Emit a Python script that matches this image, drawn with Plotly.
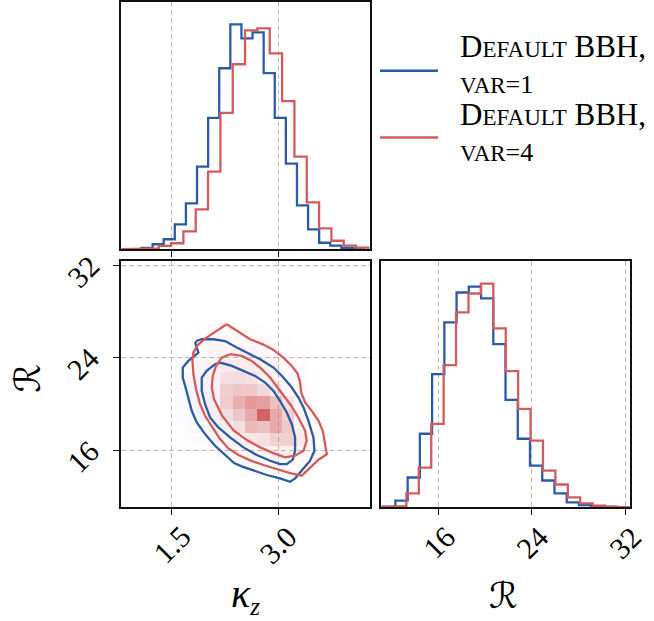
import numpy as np
import plotly.graph_objects as go

# ---- colours ----
BLUE = "#2b5aa6"
RED = "#d35b5d"
BLUE_RGB = "43,90,166"
RED_RGB = "211,91,93"

# ---- 1D histograms: kappa_z (20 bins per series, own range) ----
blue_kz_range = (1.075, 4.197)
blue_kz_counts = [1.3, 5.0, 10, 25, 46, 83, 132, 182, 226, 212,
                  218, 177, 132, 86, 44, 20, 6.5, 3.5, 1.3, 0.7]
red_kz_range = (0.797, 4.265)
red_kz_counts = [0, 0.3, 0.7, 3.3, 6, 18, 40, 78, 137, 186,
                 220, 222, 197, 149, 93, 47, 21, 8.5, 3.5, 1.5]

# ---- 1D histograms: R ----
blue_R_range = (11.226, 32.232)
blue_R_counts = [0.7, 6.7, 30, 74, 134, 186, 216, 222, 210, 164,
                 108, 69, 42, 27, 14, 5, 2.3, 1, 0.5, 0.3]
red_R_range = (11.088, 32.404)
red_R_counts = [0.5, 1, 14, 40, 84, 143, 196, 215, 225, 180,
                137, 99, 67, 37, 23, 10, 4, 1.7, 0.7, 0.3]

N_BINS = 20

# ---- 2D density (red sample), cells kz bins 4..15, R bins 3..14 (bottom -> top) ----
red_2d_kz_bins = (4, 16)
red_2d_R_bins = (3, 15)
red_density = [
    [0, 0, 0, 0, 0, 0.02, 0.03, 0.04, 0.04, 0.04, 0.03, 0.02],
    [0, 0, 0, 0, 0.02, 0.04, 0.06, 0.08, 0.10, 0.10, 0.06, 0.03],
    [0, 0, 0, 0.02, 0.04, 0.08, 0.15, 0.20, 0.30, 0.30, 0.15, 0.05],
    [0, 0, 0.01, 0.03, 0.08, 0.20, 0.45, 0.40, 0.55, 0.35, 0.10, 0.04],
    [0, 0, 0.02, 0.05, 0.20, 0.35, 0.55, 1.00, 0.55, 0.30, 0.08, 0.03],
    [0, 0.01, 0.03, 0.07, 0.30, 0.50, 0.65, 0.62, 0.40, 0.18, 0.05, 0.02],
    [0, 0.01, 0.04, 0.08, 0.30, 0.35, 0.35, 0.25, 0.15, 0.06, 0.03, 0.01],
    [0, 0.02, 0.05, 0.08, 0.18, 0.22, 0.20, 0.12, 0.08, 0.04, 0.02, 0.01],
    [0, 0.02, 0.05, 0.08, 0.12, 0.13, 0.12, 0.09, 0.06, 0.03, 0.02, 0],
    [0, 0.02, 0.04, 0.07, 0.08, 0.08, 0.07, 0.05, 0.03, 0.02, 0.01, 0],
    [0, 0.02, 0.03, 0.05, 0.05, 0.05, 0.04, 0.03, 0.02, 0.01, 0, 0],
    [0, 0, 0.02, 0.03, 0.03, 0.02, 0.02, 0.01, 0, 0, 0, 0],
]
# faint density of the blue sample, kz bins 3..8, R bins 4..11 (bottom -> top)
blue_2d_kz_bins = (3, 9)
blue_2d_R_bins = (4, 12)
blue_density = [
    [0.00, 0.005, 0.015, 0.02, 0.02, 0.015],
    [0.005, 0.015, 0.025, 0.035, 0.03, 0.025],
    [0.01, 0.03, 0.04, 0.045, 0.035, 0.025],
    [0.02, 0.04, 0.05, 0.04, 0.03, 0.025],
    [0.025, 0.05, 0.045, 0.035, 0.025, 0.02],
    [0.03, 0.05, 0.04, 0.025, 0.02, 0.015],
    [0.025, 0.035, 0.03, 0.02, 0.015, 0.01],
    [0.015, 0.02, 0.02, 0.015, 0.01, 0.01],
]

# ---- credible-region contours (kappa_z, R) ----
blue_outer_kz = [1.842, 1.922, 2.086, 2.250, 2.414, 2.602, 2.742, 2.930, 3.070, 3.188,
                 3.281, 3.352, 3.422, 3.492, 3.506, 3.445, 3.328, 3.234, 3.164, 3.023,
                 2.836, 2.648, 2.484, 2.377, 2.250, 2.109, 1.969, 1.852, 1.781, 1.748,
                 1.702, 1.655, 1.655, 1.734, 1.828, 1.875, 1.852, 1.833]
blue_outer_R = [25.46, 25.61, 25.61, 25.46, 24.89, 24.32, 23.89, 23.17, 22.31, 21.45,
                20.59, 19.73, 18.58, 17.15, 16.00, 15.14, 14.28, 13.62, 13.33, 13.62,
                13.91, 14.28, 14.65, 14.94, 15.63, 16.43, 17.43, 18.44, 19.44, 20.30,
                21.30, 22.31, 23.17, 23.74, 24.17, 24.46, 24.89, 25.26]
blue_inner_kz = [2.180, 2.344, 2.508, 2.672, 2.813, 2.930, 3.023, 3.117, 3.188, 3.234,
                 3.234, 3.202, 3.117, 3.023, 2.883, 2.695, 2.508, 2.320, 2.156, 2.039,
                 1.969, 1.922, 1.922, 1.992, 2.109]
blue_inner_R = [23.60, 23.31, 22.88, 22.45, 21.88, 21.16, 20.30, 19.30, 18.29, 17.15,
                16.00, 15.23, 14.85, 14.85, 15.14, 15.63, 16.29, 17.15, 18.01, 18.87,
                20.01, 21.16, 22.31, 22.88, 23.46]
red_outer_kz = [2.273, 2.438, 2.602, 2.789, 2.930, 3.070, 3.188, 3.267, 3.305, 3.319,
                3.375, 3.469, 3.563, 3.623, 3.656, 3.680, 3.563, 3.445, 3.328, 3.164,
                2.977, 2.789, 2.602, 2.438, 2.297, 2.180, 2.063, 1.969, 1.898, 1.842,
                1.805, 1.791, 1.805, 1.861, 1.969, 2.109]
red_outer_R = [26.90, 26.24, 25.61, 25.15, 24.69, 24.03, 23.31, 22.68, 21.88, 21.02,
               20.16, 19.44, 18.58, 17.72, 16.72, 15.71, 15.23, 14.57, 13.85, 14.08,
               14.42, 14.77, 15.17, 15.63, 16.20, 17.00, 18.09, 19.01, 20.01, 21.30,
               22.59, 23.74, 24.46, 25.09, 25.66, 26.24]
red_inner_kz = [2.320, 2.484, 2.625, 2.766, 2.883, 3.023, 3.164, 3.281, 3.375, 3.398,
                3.352, 3.234, 3.094, 2.930, 2.742, 2.555, 2.367, 2.203, 2.095, 2.063,
                2.077, 2.123, 2.203]
red_inner_R = [24.32, 24.17, 23.74, 23.03, 22.31, 21.16, 20.01, 18.87, 17.72, 16.86,
               16.00, 15.57, 15.43, 15.80, 16.29, 16.92, 17.78, 19.07, 20.44, 21.45,
               22.45, 23.31, 24.03]

# ---- axes ----
kz_axis_range = [0.787, 4.280]
R_axis_range = [11.12, 32.34]
R_xaxis_range = [11.04, 32.37]
kz_ticks = [1.5, 3.0]
R_ticks = [16, 24, 32]

SC = "<span style='font-size:23px'>{}</span>"
legend_entries = [
    (["D" + SC.format("EFAULT") + " BBH,", SC.format("VAR") + "=1"], BLUE),
    (["D" + SC.format("EFAULT") + " BBH,", SC.format("VAR") + "=4"], RED),
]
legend_line_sizes = [31, 26]

SERIF = "Liberation Serif, Times New Roman, serif"
LW = 2.3


def edges(rng):
    return np.linspace(rng[0], rng[1], N_BINS + 1)


def step_path(rng, counts):
    e = edges(rng)
    xs = np.repeat(e, 2)
    ys = np.concatenate([[0], np.repeat(counts, 2), [0]])
    return xs, ys


fig = go.Figure()

# top-left: kappa_z marginals
for rng, cnt, col in [(blue_kz_range, blue_kz_counts, BLUE), (red_kz_range, red_kz_counts, RED)]:
    xs, ys = step_path(rng, cnt)
    fig.add_trace(go.Scatter(x=xs, y=ys, mode="lines", line=dict(color=col, width=LW),
                             xaxis="x", yaxis="y", hoverinfo="skip", showlegend=False))

# bottom-right: R marginals
for rng, cnt, col in [(blue_R_range, blue_R_counts, BLUE), (red_R_range, red_R_counts, RED)]:
    xs, ys = step_path(rng, cnt)
    fig.add_trace(go.Scatter(x=xs, y=ys, mode="lines", line=dict(color=col, width=LW),
                             xaxis="x3", yaxis="y3", hoverinfo="skip", showlegend=False))

# bottom-left: 2D density
bkz = edges(blue_kz_range)[blue_2d_kz_bins[0]:blue_2d_kz_bins[1] + 1]
bR = edges(blue_R_range)[blue_2d_R_bins[0]:blue_2d_R_bins[1] + 1]
fig.add_trace(go.Heatmap(x=bkz, y=bR, z=blue_density, zmin=0, zmax=1, showscale=False,
                         colorscale=[[0, f"rgba({BLUE_RGB},0)"], [1, f"rgba({BLUE_RGB},1)"]],
                         xaxis="x2", yaxis="y2", hoverinfo="skip"))
rkz = edges(red_kz_range)[red_2d_kz_bins[0]:red_2d_kz_bins[1] + 1]
rR = edges(red_R_range)[red_2d_R_bins[0]:red_2d_R_bins[1] + 1]
fig.add_trace(go.Heatmap(x=rkz, y=rR, z=red_density, zmin=0, zmax=1, showscale=False,
                         colorscale=[[0, f"rgba({RED_RGB},0)"], [1, f"rgba({RED_RGB},0.95)"]],
                         xaxis="x2", yaxis="y2", hoverinfo="skip"))

for kz, R, col in [(blue_outer_kz, blue_outer_R, BLUE), (blue_inner_kz, blue_inner_R, BLUE),
                   (red_outer_kz, red_outer_R, RED), (red_inner_kz, red_inner_R, RED)]:
    fig.add_trace(go.Scatter(x=kz + kz[:1], y=R + R[:1], mode="lines",
                             line=dict(color=col, width=LW),
                             xaxis="x2", yaxis="y2", hoverinfo="skip", showlegend=False))

max_kz = max(max(blue_kz_counts), max(red_kz_counts))
max_R = max(max(blue_R_counts), max(red_R_counts))

frame = dict(showline=True, mirror=True, linecolor="#111111", linewidth=1.6,
             zeroline=False, showticklabels=False)
grid = dict(showgrid=True, gridcolor="#bcbcbc", gridwidth=1, griddash="5px,3px")
tk = dict(ticks="outside", ticklen=6, tickwidth=1.4, tickcolor="#111111")

LEFT = [121 / 654, 369.5 / 654]
RIGHT = [381 / 654, 629.5 / 654]
TOP = [(621 - 248) / 621, 1.0]
BOT = [(621 - 507) / 621, (621 - 260) / 621]

fig.update_layout(
    width=654, height=621, margin=dict(l=0, r=0, t=0, b=0),
    paper_bgcolor="white", plot_bgcolor="white", showlegend=False,
    xaxis=dict(domain=LEFT, range=kz_axis_range, anchor="y", tickvals=kz_ticks, **frame, **grid, **tk),
    yaxis=dict(domain=TOP, range=[0, 1.1 * max_kz], anchor="x", showgrid=False, ticks="", **frame),
    xaxis2=dict(domain=LEFT, range=kz_axis_range, anchor="y2", tickvals=kz_ticks, **frame, **grid, **tk),
    yaxis2=dict(domain=BOT, range=R_axis_range, anchor="x2", tickvals=R_ticks, **frame, **grid, **tk),
    xaxis3=dict(domain=RIGHT, range=R_xaxis_range, anchor="y3", tickvals=R_ticks, **frame, **grid, **tk),
    yaxis3=dict(domain=BOT, range=[0, 1.1 * max_R], anchor="x3", showgrid=False, ticks="", **frame),
)

ann = []
tick_font = dict(family=SERIF, size=30, color="black")
for v in kz_ticks:
    ann.append(dict(x=v, xref="x2", y=BOT[0], yref="paper", yshift=-37, text=f"{v:.1f}",
                    textangle=-45, showarrow=False, xanchor="center", yanchor="middle", font=tick_font))
for v in R_ticks:
    ann.append(dict(x=v, xref="x3", y=BOT[0], yref="paper", yshift=-35, text=f"{v}",
                    textangle=-45, showarrow=False, xanchor="center", yanchor="middle", font=tick_font))
    ann.append(dict(x=83 / 654, xref="paper", y=v, yref="y2", yshift=-6, text=f"{v}",
                    textangle=-45, showarrow=False, xanchor="center", yanchor="middle", font=tick_font))

# axis labels
ann.append(dict(x=245 / 654, xref="paper", y=(621 - 595) / 621, yref="paper",
                text="<i>κ</i><sub><i><span style='font-size:25px'>z</span></i></sub>",
                showarrow=False, xanchor="center", yanchor="middle",
                font=dict(family=SERIF, size=40, color="black")))
ann.append(dict(x=503 / 654, xref="paper", y=(621 - 595) / 621, yref="paper",
                text="ℛ", showarrow=False, xanchor="center", yanchor="middle",
                font=dict(family="DejaVu Serif, DejaVu Sans", size=36, color="black")))
ann.append(dict(x=28 / 654, xref="paper", y=(621 - 378) / 621, yref="paper",
                text="ℛ", textangle=-90, showarrow=False, xanchor="center", yanchor="middle",
                font=dict(family="DejaVu Serif, DejaVu Sans", size=36, color="black")))

# legend
legend_line_y = [69, 136]
legend_text_y = [(45, 83), (113, 151)]
for (lines, col), ly, tys in zip(legend_entries, legend_line_y, legend_text_y):
    fig.add_shape(type="line", xref="paper", yref="paper",
                  x0=380 / 654, x1=438 / 654, y0=(621 - ly) / 621, y1=(621 - ly) / 621,
                  line=dict(color=col, width=2.6))
    for txt, ty, fs in zip(lines, tys, legend_line_sizes):
        ann.append(dict(x=458 / 654, xref="paper", y=(621 - ty) / 621, yref="paper", text=txt,
                        showarrow=False, xanchor="left", yanchor="middle", align="left",
                        font=dict(family=SERIF, size=fs, color="black")))

fig.update_layout(annotations=ann)
fig.write_html("out.html")
